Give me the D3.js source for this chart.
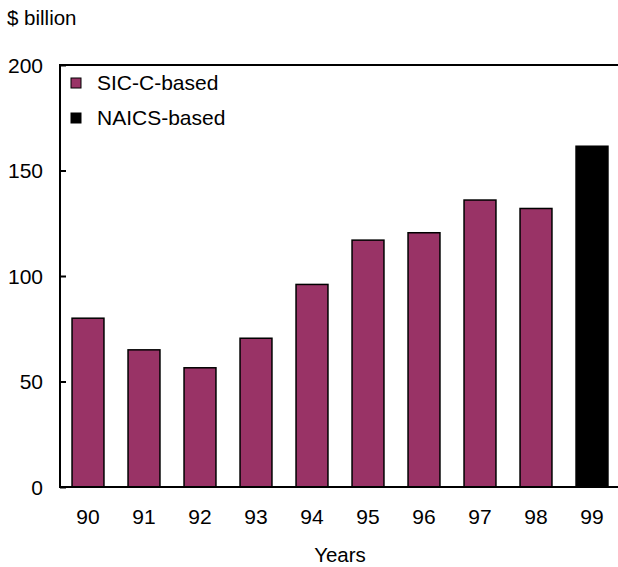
<!DOCTYPE html>
<html>
<head>
<meta charset="utf-8">
<script src="https://cdn.jsdelivr.net/npm/d3@7"></script>
<style>
  body { margin: 0; background: #fff; }
  text { font-family: "Liberation Sans", Arial, sans-serif; fill: #000; }
</style>
</head>
<body>
<div id="chart"></div>
<script>
// chart data
const years = ["90", "91", "92", "93", "94", "95", "96", "97", "98", "99"];
const values = [80, 65, 56.5, 70.5, 96, 117, 120.5, 136, 132, 161.5];
const series = ["SIC", "SIC", "SIC", "SIC", "SIC", "SIC", "SIC", "SIC", "SIC", "NAICS"];
const legendLabels = ["SIC-C-based", "NAICS-based"];
const yTicks = [0, 50, 100, 150, 200];

const width = 618, height = 567;
const margin = { top: 65, left: 60, right: -2, bottom: 80 };
const colors = { SIC: "#993366", NAICS: "#000000" };

const svg = d3.select("#chart").append("svg")
    .attr("width", width)
    .attr("height", height);

// scales
const x = d3.scaleBand()
    .domain(years)
    .range([margin.left, width - margin.right])
    .paddingInner(0.43)
    .paddingOuter(0.215);

const y = d3.scaleLinear()
    .domain([0, 200])
    .range([height - margin.bottom, margin.top]);

// bars
svg.selectAll("rect.bar")
    .data(years)
    .enter().append("rect")
    .attr("class", "bar")
    .attr("x", d => x(d))
    .attr("width", x.bandwidth())
    .attr("y", (d, i) => y(values[i]))
    .attr("height", (d, i) => y(0) - y(values[i]))
    .attr("fill", (d, i) => colors[series[i]])
    .attr("stroke", "#000")
    .attr("stroke-width", 1.5);

// top frame line
svg.append("line")
    .attr("x1", margin.left - 1).attr("x2", width)
    .attr("y1", y(200)).attr("y2", y(200))
    .attr("stroke", "#000").attr("stroke-width", 2);

// y axis
const yAxis = svg.append("g")
    .attr("transform", `translate(${margin.left},0)`)
    .call(d3.axisRight(y).tickValues(yTicks).tickSize(6).tickFormat(""));
yAxis.select(".domain").attr("stroke-width", 2).attr("d", `M0,${y(0)}V${y(200)}`);
yAxis.selectAll(".tick line").attr("stroke-width", 2);

svg.selectAll("text.ylab")
    .data(yTicks)
    .enter().append("text")
    .attr("class", "ylab")
    .attr("x", 43)
    .attr("y", d => y(d))
    .attr("dy", "0.36em")
    .attr("text-anchor", "end")
    .attr("font-size", 21)
    .text(d => d);

// x axis
const xAxis = svg.append("g")
    .attr("transform", `translate(0,${y(0)})`)
    .call(d3.axisBottom(x).tickSize(0).tickPadding(22));
xAxis.select(".domain").attr("stroke-width", 2).attr("d", `M${margin.left - 1},0H${width}`);
xAxis.selectAll("text")
    .attr("font-size", 21)
    .attr("font-family", "Liberation Sans, Arial, sans-serif");

// titles
svg.append("text")
    .attr("x", 7).attr("y", 25)
    .attr("font-size", 20.5)
    .text("$ billion");

svg.append("text")
    .attr("x", (margin.left + width - margin.right) / 2)
    .attr("y", 562)
    .attr("text-anchor", "middle")
    .attr("font-size", 20.5)
    .text("Years");

// legend
const legend = svg.selectAll("g.legend")
    .data(legendLabels)
    .enter().append("g")
    .attr("class", "legend")
    .attr("transform", (d, i) => `translate(71,${78 + i * 35})`);

legend.append("rect")
    .attr("width", 10).attr("height", 10)
    .attr("fill", (d, i) => i === 0 ? colors.SIC : colors.NAICS)
    .attr("stroke", "#000").attr("stroke-width", 1);

legend.append("text")
    .attr("x", 26).attr("y", 12)
    .attr("font-size", 21)
    .text(d => d);
</script>
</body>
</html>
